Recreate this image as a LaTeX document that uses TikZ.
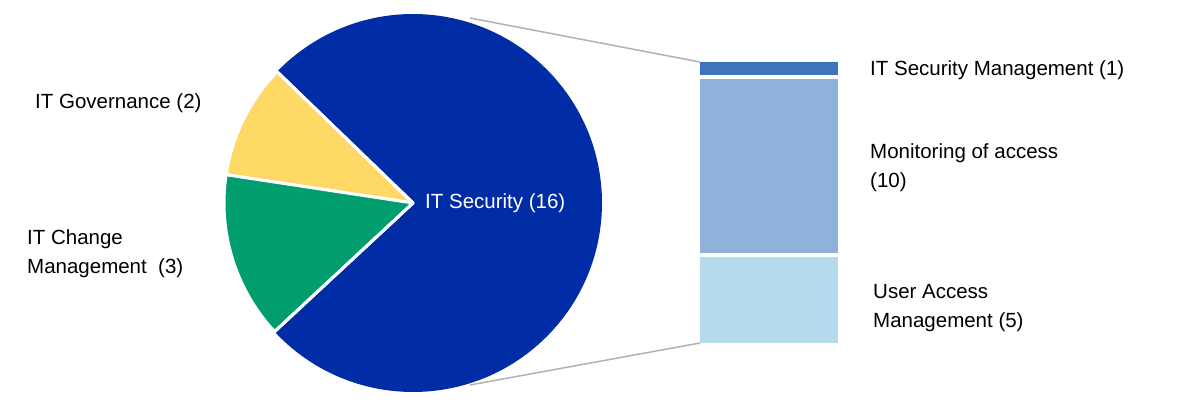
\documentclass[tikz,border=0pt]{standalone}
\usepackage{fontspec}
\setmainfont{Liberation Sans}
\definecolor{sec}{HTML}{002DA5}
\definecolor{gov}{HTML}{FFD966}
\definecolor{chg}{HTML}{009E6E}
\definecolor{b1}{HTML}{3D74BB}
\definecolor{b2}{HTML}{8FB2DA}
\definecolor{b3}{HTML}{B4DAEB}
\begin{document}
\begin{tikzpicture}[x=1pt,y=1pt,
  slice/.style={draw=white,line width=3pt,line join=round},
  lbl/.style={font=\fontsize{20.5}{29}\selectfont,align=left,anchor=west,inner sep=0pt},
  zoomline/.style={draw=gray!60,line width=1.5pt}]
\useasboundingbox (0,0) rectangle (1200,404);
\coordinate (c) at (413,201);
\fill[sec] (c) -- ++(222.9:189) arc[start angle=222.9,end angle=496,radius=189] -- cycle;
\draw[slice,fill=gov] (c) -- ++(136:189) arc[start angle=136,end angle=171.4,radius=189] -- cycle;
\draw[slice,fill=chg] (c) -- ++(171.4:189) arc[start angle=171.4,end angle=222.9,radius=189] -- cycle;
\draw[draw=white,line width=3pt] (c) -- ++(136:190) (c) -- ++(222.9:190);
\node[lbl,text=white] (ls) at (425,201) {IT Security (16)};
\node[lbl] (lg) at (35,301) {IT Governance (2)};
\node[lbl] (lc) at (27,150) {IT Change\\Management~ (3)};
\coordinate (pt) at (470,386);
\coordinate (pb) at (470,19);
\fill[b1] (700,329) rectangle (838,342);
\fill[b2] (700,151) rectangle (838,325);
\fill[b3] (700,61) rectangle (838,147);
\coordinate (bt) at (700,342);
\coordinate (bb) at (700,61);
\draw[zoomline] (pt) -- (bt);
\draw[zoomline] (pb) -- (bb);
\node[lbl] (r1) at (870,334) {IT Security Management (1)};
\node[lbl] (r2) at (870,236) {Monitoring of access\\(10)};
\node[lbl] (r3) at (873,96) {User Access\\Management (5)};
\end{tikzpicture}
\end{document}
